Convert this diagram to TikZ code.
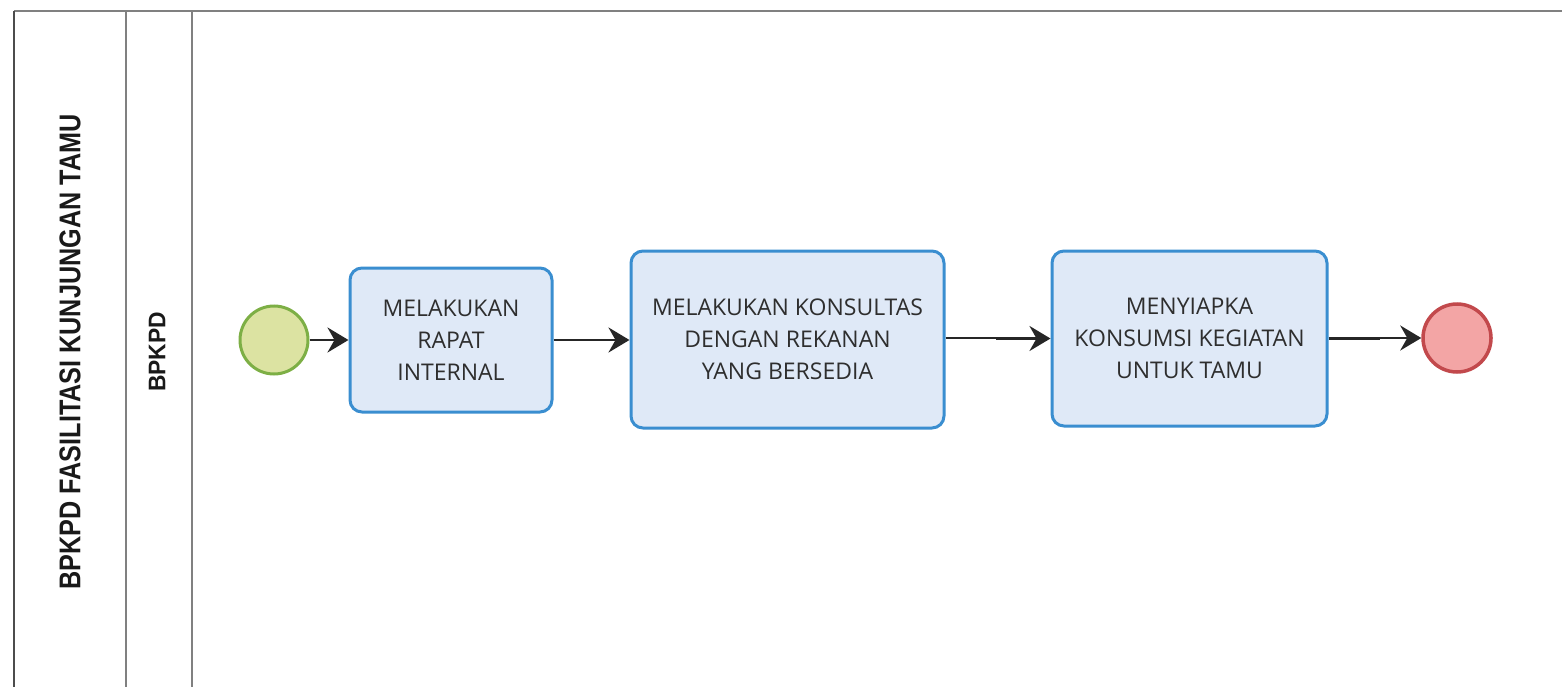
\documentclass[tikz,border=0pt]{standalone}
\usepackage{fontspec}
\setmainfont{Open Sans}
\newfontfamily\lanefont{Liberation Sans}
\usetikzlibrary{arrows.meta}
\definecolor{taskfill}{HTML}{DFE9F7}
\definecolor{taskdraw}{HTML}{3A8ED0}
\definecolor{startfill}{HTML}{DCE3A2}
\definecolor{startdraw}{HTML}{7DAF45}
\definecolor{endfill}{HTML}{F3A5A5}
\definecolor{enddraw}{HTML}{C2494C}
\definecolor{txt}{HTML}{2E2E2E}
\definecolor{laneline}{HTML}{808080}
\tikzset{
  taskbox/.style={draw=taskdraw, fill=taskfill, line width=3pt, rounded corners=12pt,
    align=center, text=txt, font=\fontsize{23}{32}\selectfont, inner sep=0pt},
  flow/.style={line width=2.8pt, draw=black!85, -{Stealth[length=21pt,width=25pt,inset=7pt]}},
  lanelabel/.style={rotate=90, text=black!90, font=\lanefont\bfseries},
  lanerule/.style={draw=laneline, line width=2pt},
}
\begin{document}
\begin{tikzpicture}[x=1pt,y=-1pt]
\useasboundingbox (0,0) rectangle (1562,687);
% pool and lanes
\draw[lanerule] (14,11) -- (1562,11);
\draw[lanerule, draw=black!70] (14,11) -- (14,687);
\draw[lanerule] (126,11) -- (126,687);
\draw[lanerule] (192,11) -- (192,687);
\node[lanelabel, font=\lanefont\bfseries\fontsize{30}{34}\selectfont] (pool) at (70,352) {\scalebox{0.84}[1]{BPKPD FASILITASI KUNJUNGAN TAMU}};
\node[lanelabel, font=\lanefont\bfseries\fontsize{24}{28}\selectfont] (lane) at (157,352) {\scalebox{0.95}[1]{BPKPD}};
% events
\node[circle, draw=startdraw, fill=startfill, line width=3pt, minimum size=68pt, inner sep=0pt] (start) at (274,340) {};
\node[circle, draw=enddraw, fill=endfill, line width=3.5pt, minimum size=68pt, inner sep=0pt] (end) at (1457,338) {};
% tasks
\node[taskbox, minimum width=202pt, minimum height=144pt] (t1) at (451,340) {MELAKUKAN\\RAPAT\\INTERNAL};
\node[taskbox, minimum width=313pt, minimum height=177pt] (t2) at (787.5,339.5) {MELAKUKAN KONSULTAS\\DENGAN REKANAN\\YANG BERSEDIA};
\node[taskbox, minimum width=275pt, minimum height=175pt] (t3) at (1189.5,338.5) {MENYIAPKA\\KONSUMSI KEGIATAN\\UNTUK TAMU};
% flows
\draw[flow] (start.east) -- (start.east -| t1.west);
\draw[flow] (t1.east) -- (t1.east -| t2.west);
\draw[flow] ([yshift=1.5pt]t2.east) -- ++(52,0) |- (t3.west);
\draw[flow] (t3.east) -- ++(50,0) |- (end.west);
\end{tikzpicture}
\end{document}
